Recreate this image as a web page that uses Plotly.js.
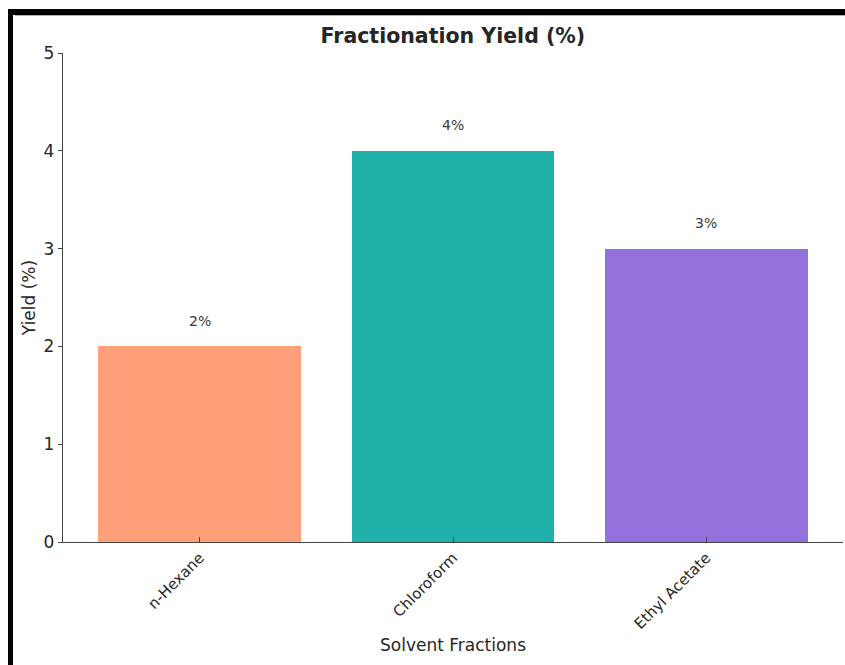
<!DOCTYPE html>
<html>
<head>
<meta charset="utf-8">
<script src="https://cdn.plot.ly/plotly-3.0.1.min.js"></script>
<style>
  html, body { margin: 0; padding: 0; background: #ffffff; }
  #wrap { position: relative; width: 845px; height: 665px; overflow: hidden; }
  #chart { position: absolute; left: 0; top: 0; width: 845px; height: 665px; }
  .frame { position: absolute; background: #000; pointer-events: none; }
</style>
</head>
<body>
<div id="wrap">
  <div id="chart"></div>
  <div class="frame" style="left:8px; top:9px; width:837px; height:6px;"></div>
  <div class="frame" style="left:15px; top:15px; width:830px; height:1px; background:#b0b0b0;"></div>
  <div class="frame" style="left:8px; top:9px; width:5px; height:656px;"></div>
</div>
<script>
// Solvent fractions and their yields (%)
const fractions = ["n-Hexane", "Chloroform", "Ethyl Acetate"];
const yields = [2, 4, 3];
const barColors = ["#FFA07A", "#20B2AA", "#9370DB"];
const yTicks = [0, 1, 2, 3, 4, 5];

const FONT = "DejaVu Sans, Verdana, sans-serif";
const TEXT = "#262626";

const trace = {
  type: "bar",
  x: fractions.map((_, i) => i),
  y: yields,
  width: 0.8,
  marker: { color: barColors, line: { width: 0 } },
  hoverinfo: "x+y",
  showlegend: false
};

// value labels just above each bar
const labels = yields.map((v, i) => ({
  x: i, y: v + 0.16, xref: "x", yref: "y",
  text: v + "%", showarrow: false,
  xanchor: "center", yanchor: "bottom",
  font: { family: FONT, size: 14, color: "#3a3a3a" }
}));

const layout = {
  width: 845, height: 665,
  paper_bgcolor: "#ffffff", plot_bgcolor: "#ffffff",
  margin: { l: 63, r: 2, t: 53, b: 123 },
  font: { family: FONT, color: TEXT },
  title: {
    text: "<b>Fractionation Yield (%)</b>",
    font: { family: FONT, size: 20.5, color: TEXT },
    x: 0.536, xanchor: "center", y: 0.946, yanchor: "middle"
  },
  xaxis: {
    range: [-0.54, 2.54],
    tickmode: "array",
    tickvals: fractions.map((_, i) => i),
    ticktext: fractions,
    tickangle: -45,
    ticks: "inside", ticklen: 5, tickwidth: 1, tickcolor: "#444",
    showline: true, linecolor: "#444", linewidth: 1.2,
    showgrid: false, zeroline: false,
    tickfont: { family: FONT, size: 15, color: TEXT },
    title: { text: "Solvent Fractions", font: { family: FONT, size: 17, color: TEXT }, standoff: 7 },
    automargin: false
  },
  yaxis: {
    range: [0, 5],
    tickmode: "array",
    tickvals: yTicks,
    ticktext: yTicks.map(String),
    ticks: "outside", ticklen: 4, tickwidth: 1, tickcolor: "#444",
    showline: true, linecolor: "#444", linewidth: 1.2,
    showgrid: false, zeroline: false,
    tickfont: { family: FONT, size: 17, color: TEXT },
    title: { text: "Yield (%)", font: { family: FONT, size: 17, color: TEXT }, standoff: 3 },
    automargin: false
  },
  annotations: labels,
  bargap: 0
};

Plotly.newPlot("chart", [trace], layout, { displayModeBar: false, staticPlot: true });
</script>
</body>
</html>
